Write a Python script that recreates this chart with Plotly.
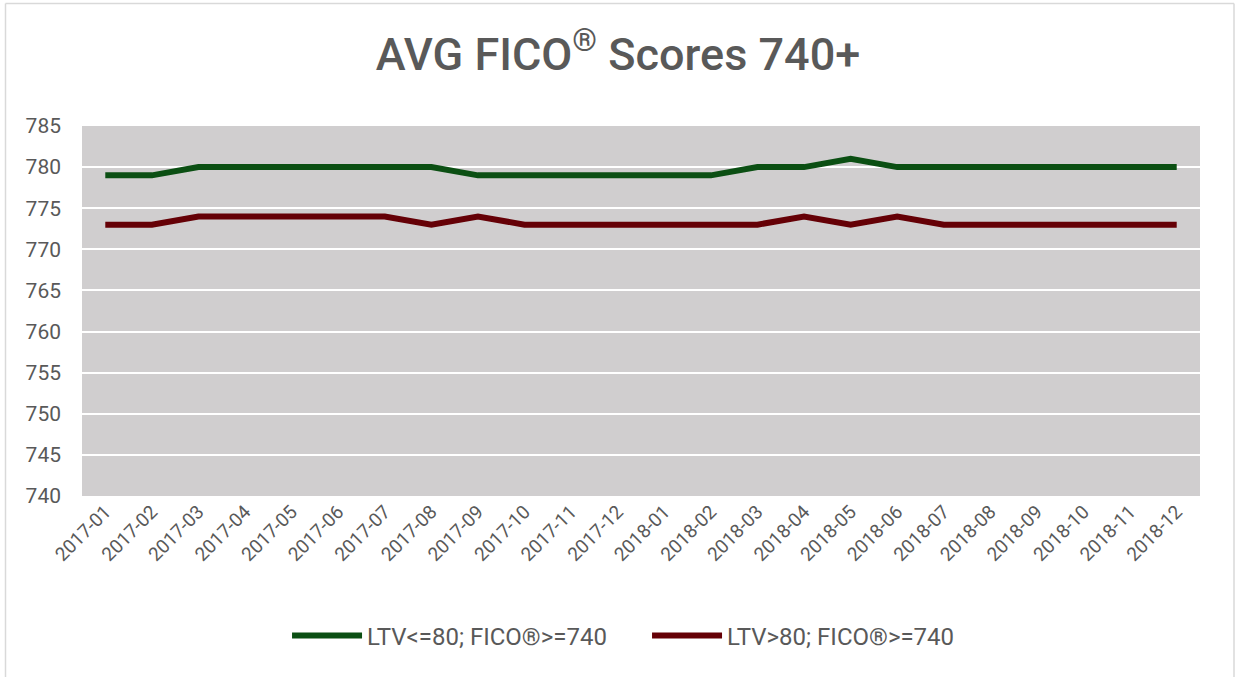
import plotly.graph_objects as go

months = ["2017-01", "2017-02", "2017-03", "2017-04", "2017-05", "2017-06",
          "2017-07", "2017-08", "2017-09", "2017-10", "2017-11", "2017-12",
          "2018-01", "2018-02", "2018-03", "2018-04", "2018-05", "2018-06",
          "2018-07", "2018-08", "2018-09", "2018-10", "2018-11", "2018-12"]
ltv_le_80 = [779, 779, 780, 780, 780, 780, 780, 780, 779, 779, 779, 779,
             779, 779, 780, 780, 781, 780, 780, 780, 780, 780, 780, 780]
ltv_gt_80 = [773, 773, 774, 774, 774, 774, 774, 773, 774, 773, 773, 773,
             773, 773, 773, 774, 773, 774, 773, 773, 773, 773, 773, 773]
y_ticks = [740, 745, 750, 755, 760, 765, 770, 775, 780, 785]

W, H = 1236, 677
L, R, T, B = 82, 36, 126, 181
pw, ph = W - L - R, H - T - B

def px_x(x):
    return (x - L) / pw

def px_y(y):
    return (H - B - y) / ph

fig = go.Figure()
fig.add_trace(go.Scatter(x=months, y=ltv_le_80, mode="lines",
                         name="LTV<=80; FICO®>=740",
                         line=dict(color="#0B4F13", width=6)))
fig.add_trace(go.Scatter(x=months, y=ltv_gt_80, mode="lines",
                         name="LTV>80; FICO®>=740",
                         line=dict(color="#650006", width=6)))

border = "#D9D9D9"
shapes = [
    dict(type="line", xref="paper", yref="paper", x0=px_x(5.5), x1=px_x(5.5),
         y0=px_y(3.5), y1=px_y(700), line=dict(color=border, width=1.5)),
    dict(type="line", xref="paper", yref="paper", x0=px_x(5.5), x1=px_x(1234),
         y0=px_y(3.5), y1=px_y(3.5), line=dict(color=border, width=1.5)),
    dict(type="line", xref="paper", yref="paper", x0=px_x(1234), x1=px_x(1234),
         y0=px_y(3.5), y1=px_y(700), line=dict(color=border, width=1.5)),
]

fig.update_layout(
    width=W, height=H,
    margin=dict(l=L, r=R, t=T, b=B, pad=0),
    paper_bgcolor="white",
    plot_bgcolor="#D0CECF",
    font=dict(family="Roboto, Arial, sans-serif", color="#595959"),
    title=dict(text="AVG FICO<sup>®</sup> Scores 740+", x=0.5, xanchor="center",
               y=1 - 54 / H, yanchor="middle",
               font=dict(size=45, color="#595959", weight=500,
                         family="Roboto, Arial, sans-serif")),
    xaxis=dict(type="category", tickangle=-45, showgrid=False, zeroline=False,
               showline=False, ticks="", tickfont=dict(size=19, color="#595959"),
               range=[-0.5, len(months) - 0.5]),
    yaxis=dict(range=[740, 785], tickvals=y_ticks, showgrid=True,
               gridcolor="white", gridwidth=2, zeroline=False, showline=False,
               ticks="", ticklabelstandoff=20,
               tickfont=dict(size=21, color="#595959")),
    legend=dict(orientation="h", x=0.5054, xanchor="center", y=px_y(636),
                yanchor="middle", itemwidth=70, entrywidth=275,
                entrywidthmode="pixels",
                font=dict(size=24, color="#595959"), tracegroupgap=0),
    shapes=shapes,
)

fig.write_html("out.html", config={"displayModeBar": False},
               post_script="document.body.style.margin='0';")
